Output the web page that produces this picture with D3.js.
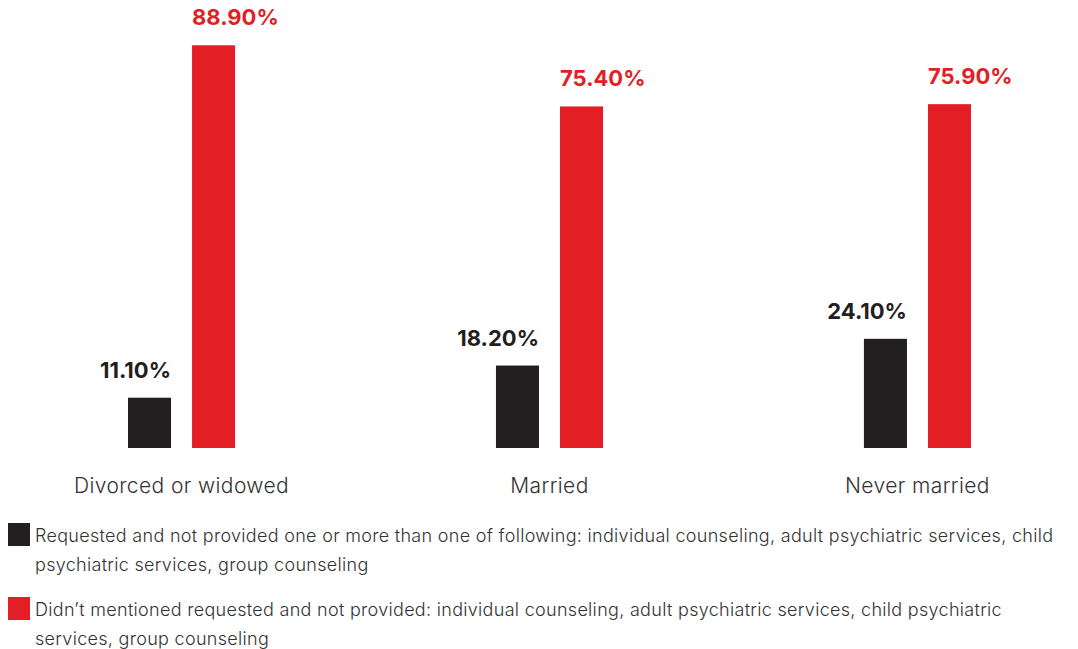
<!DOCTYPE html>
<html>
<head>
<meta charset="utf-8">
<script src="https://cdn.jsdelivr.net/npm/d3@7"></script>
<style>
  html, body { margin: 0; padding: 0; background: #fff; }
  svg { display: block; font-family: Inter, "Noto Sans", sans-serif; }
</style>
</head>
<body>
<svg id="chart" width="1078" height="649"></svg>
<script>
// Marital status groups and the share (%) of each response type
const categories = ["Divorced or widowed", "Married", "Never married"];
const seriesKeys = ["requested", "notMentioned"];
const requestedValues = [11.1, 18.2, 24.1];
const notMentionedValues = [88.9, 75.4, 75.9];
const seriesColors = ["#231F20", "#E31E24"];
const legendLines = [
  ["Requested and not provided one or more than one of following: individual counseling, adult psychiatric services, child",
   "psychiatric services, group counseling"],
  ["Didn\u2019t mentioned requested and not provided: individual counseling, adult psychiatric services, child psychiatric",
   "services, group counseling"]
];

const values = { requested: requestedValues, notMentioned: notMentionedValues };
const svg = d3.select("#chart");

const baseline = 448;
const x0 = d3.scaleBand().domain(categories).range([128, 971]).paddingInner(0.709);
const x1 = d3.scaleBand().domain(seriesKeys).range([0, x0.bandwidth()]).paddingInner(21 / 64);
const y = d3.scaleLinear().domain([0, 100]).range([baseline, baseline - 453]);
const color = d3.scaleOrdinal().domain(seriesKeys).range(seriesColors);

const rows = categories.map((c, i) => ({
  category: c,
  items: seriesKeys.map(k => ({ key: k, value: values[k][i] }))
}));

const groups = svg.selectAll("g.group")
  .data(rows)
  .join("g")
  .attr("class", "group")
  .attr("transform", d => `translate(${x0(d.category)},0)`);

groups.selectAll("rect")
  .data(d => d.items)
  .join("rect")
  .attr("x", d => x1(d.key))
  .attr("y", d => y(d.value))
  .attr("width", x1.bandwidth())
  .attr("height", d => y(0) - y(d.value))
  .attr("fill", d => color(d.key));

// Value labels: dark labels end at the bar's right edge, red labels start at the bar's left edge
groups.selectAll("text.value")
  .data(d => d.items)
  .join("text")
  .attr("class", "value")
  .attr("x", d => d.key === "requested" ? x1(d.key) + x1.bandwidth() : x1(d.key))
  .attr("y", d => y(d.value) - 20)
  .attr("text-anchor", d => d.key === "requested" ? "end" : "start")
  .attr("font-size", 22)
  .attr("font-weight", 700)
  .attr("fill", d => color(d.key))
  .text(d => d.value.toFixed(2) + "%");

// Category axis labels
svg.append("g")
  .selectAll("text")
  .data(categories)
  .join("text")
  .attr("x", d => x0(d) + x0.bandwidth() / 2)
  .attr("y", 493)
  .attr("text-anchor", "middle")
  .attr("font-size", 21)
  .attr("font-weight", 300)
  .attr("letter-spacing", 0.4)
  .attr("fill", "#333")
  .text(d => d);

// Legend
const legendTop = [523, 597];
const legend = svg.append("g")
  .selectAll("g")
  .data(seriesKeys)
  .join("g")
  .attr("transform", (d, i) => `translate(0,${legendTop[i]})`);

legend.append("rect")
  .attr("x", 8)
  .attr("y", 0)
  .attr("width", 22)
  .attr("height", 23)
  .attr("fill", d => color(d));

legend.append("text")
  .attr("x", 35)
  .attr("font-size", 18)
  .attr("font-weight", 300)
  .attr("letter-spacing", 0.3)
  .attr("fill", "#333")
  .selectAll("tspan")
  .data((d, i) => legendLines[i])
  .join("tspan")
  .attr("x", 35)
  .attr("y", (d, j) => 19 + j * 29)
  .text(d => d);
</script>
</body>
</html>
